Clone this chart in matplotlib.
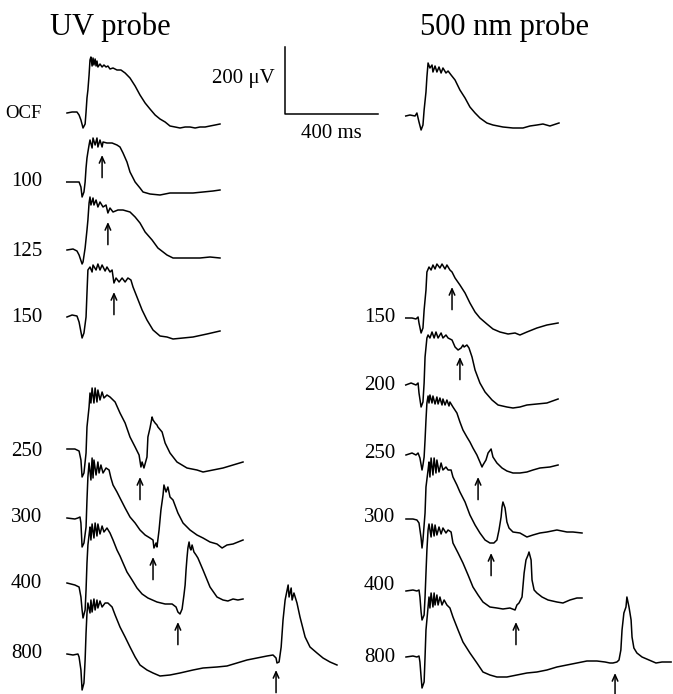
import matplotlib
matplotlib.use("Agg")
import matplotlib.pyplot as plt

plt.rcParams['font.family'] = ['Liberation Serif', 'DejaVu Serif']

# ERG traces: time from probe flash (ms), voltage from baseline (uV)
UV_OCF_T = [-56, -34, -13, -4, 4, 13, 22, 26, 30, 34, 39, 43, 47, 52, 56, 60, 65, 69, 73, 77, 86, 95, 103, 112, 120,
            129, 142, 159, 176, 194, 215, 237, 258, 280, 301, 323, 344, 366, 387, 409, 430, 452, 473, 495, 516, 538,
            559, 581, 602]
UV_OCF_V = [0, 3, 3, -6, -21, -45, -33, 3, 45, 69, 114, 159, 168, 141, 165, 144, 162, 141, 156, 138, 147, 138, 144,
            138, 141, 132, 135, 129, 129, 120, 105, 81, 54, 30, 12, -6, -18, -27, -39, -42, -45, -42, -42, -45, -42,
            -42, -39, -36, -33]

UV_100_T = [-57, -14, -4, 4, 9, 17, 22, 26, 30, 34, 39, 43, 52, 56, 65, 73, 77, 86, 95, 99, 116, 138, 159, 172, 185,
            202, 215, 237, 258, 271, 301, 344, 387, 430, 486, 529, 572, 602]
UV_100_V = [0, 0, 0, -15, -45, -30, 0, 42, 72, 90, 111, 126, 102, 132, 111, 132, 105, 126, 105, 120, 117, 117, 111,
            105, 87, 60, 30, 0, -18, -30, -36, -39, -33, -33, -33, -30, -27, -24]

UV_125_T = [-56, -30, -13, -4, 9, 13, 22, 30, 34, 39, 43, 47, 56, 60, 69, 77, 86, 99, 112, 120, 129, 142, 163, 185,
            215, 237, 258, 280, 310, 335, 374, 400, 460, 516, 559, 602]
UV_125_V = [0, 3, -3, -15, -42, -36, 6, 60, 90, 141, 159, 135, 156, 135, 150, 129, 144, 129, 135, 111, 126, 114, 120,
            120, 114, 99, 81, 54, 30, 6, -15, -24, -24, -24, -21, -24]

UV_150_T = [-56, -34, -13, -4, 9, 17, 26, 30, 34, 43, 52, 56, 69, 77, 86, 95, 108, 116, 129, 138, 146, 155, 168, 181,
            194, 206, 219, 228, 245, 267, 288, 314, 344, 374, 400, 443, 486, 546, 602]
UV_150_V = [-3, 3, 0, -18, -66, -51, -3, 69, 138, 147, 132, 153, 138, 156, 138, 153, 135, 147, 132, 138, 99, 114, 102,
            114, 102, 114, 108, 87, 57, 18, -12, -42, -60, -63, -69, -66, -63, -54, -45]

UV_250_T = [-56, -22, -4, 4, 9, 17, 26, 30, 39, 43, 47, 52, 60, 65, 73, 77, 86, 95, 103, 116, 129, 151, 172, 194, 215,
            237, 254, 262, 267, 275, 288, 292, 301, 310, 314, 323, 331, 335, 353, 366, 387, 417, 460, 503, 529, 572,
            615, 658, 701]
UV_250_V = [0, 0, -6, -33, -84, -72, -12, 66, 126, 168, 138, 183, 138, 183, 141, 177, 147, 171, 153, 162, 156, 141,
            108, 78, 36, 6, -18, -54, -39, -57, -24, 36, 63, 96, 87, 78, 72, 66, 51, 18, -12, -39, -57, -63, -69, -63,
            -57, -48, -39]

UV_300_T = [-56, -22, -9, 0, 4, 9, 17, 26, 30, 34, 39, 47, 52, 56, 60, 69, 77, 82, 90, 99, 112, 125, 133, 142, 159,
            172, 194, 215, 237, 258, 280, 301, 314, 318, 327, 331, 340, 348, 357, 361, 370, 378, 387, 400, 421, 443,
            473, 503, 529, 559, 589, 611, 632, 658, 701]
UV_300_V = [0, -3, 0, 3, -15, -87, -75, -27, 54, 123, 165, 114, 180, 120, 174, 129, 168, 135, 159, 135, 150, 144, 120,
            99, 78, 60, 30, 3, -15, -36, -51, -60, -66, -90, -75, -87, -36, 24, 69, 99, 78, 93, 63, 54, 15, -15, -36,
            -51, -60, -72, -78, -90, -81, -78, -66]

UV_400_T = [-56, -22, -4, 4, 9, 13, 22, 26, 30, 34, 39, 43, 47, 52, 60, 65, 73, 77, 86, 95, 103, 116, 129, 142, 159,
            172, 185, 202, 224, 245, 267, 292, 331, 366, 396, 413, 421, 430, 439, 447, 452, 456, 460, 464, 469, 473,
            477, 482, 490, 499, 507, 529, 559, 589, 615, 636, 658, 679, 701]
UV_400_V = [0, -6, -12, -42, -81, -105, -81, -21, 60, 114, 144, 168, 129, 177, 135, 180, 141, 177, 147, 171, 153, 165,
            150, 129, 99, 81, 60, 33, 9, -15, -33, -45, -57, -63, -63, -72, -87, -93, -78, -36, -6, 39, 75, 105, 123,
            105, 99, 114, 93, 84, 75, 39, -12, -42, -51, -54, -48, -51, -48]

UV_800_T = [-56, -30, -9, -4, 4, 9, 17, 22, 26, 30, 34, 43, 47, 52, 60, 65, 73, 77, 86, 95, 108, 120, 138, 151, 172,
            194, 215, 237, 258, 288, 314, 344, 387, 430, 486, 529, 589, 632, 675, 718, 761, 804, 830, 843, 847, 856,
            865, 873, 882, 895, 899, 908, 912, 920, 933, 946, 968, 989, 1019, 1045, 1075, 1105]
UV_800_V = [3, 0, 3, -6, -45, -105, -84, -15, 66, 126, 156, 126, 165, 129, 168, 135, 165, 141, 162, 144, 156, 156,
            144, 120, 84, 54, 24, -6, -30, -45, -54, -63, -60, -54, -45, -39, -36, -33, -24, -15, -9, -3, 0, -9, -24,
            -21, 24, 105, 165, 210, 174, 201, 165, 186, 156, 114, 54, 24, 6, -9, -21, -30]

G500_OCF_T = [-57, -39, -17, -9, 0, 9, 17, 22, 30, 34, 39, 47, 56, 60, 69, 77, 86, 95, 103, 116, 125, 138, 155, 176,
              198, 219, 241, 262, 292, 318, 361, 404, 447, 477, 507, 533, 563, 602]
G500_OCF_V = [-3, 0, -3, 6, -21, -45, -30, 15, 69, 114, 156, 141, 150, 129, 147, 129, 144, 126, 141, 126, 132, 120,
              105, 75, 51, 24, 6, -9, -24, -30, -36, -39, -39, -33, -30, -27, -33, -24]

G500_150_T = [-57, -30, -13, -4, 0, 9, 17, 22, 30, 34, 43, 52, 60, 69, 77, 90, 99, 112, 120, 133, 142, 155, 176, 198,
              219, 241, 262, 292, 318, 348, 383, 413, 434, 464, 507, 550, 598]
G500_150_V = [0, 0, -3, 3, -15, -45, -30, 24, 84, 138, 153, 144, 159, 147, 162, 150, 162, 147, 159, 144, 138, 120, 99,
              75, 45, 18, 0, -18, -33, -42, -48, -45, -51, -42, -30, -21, -15]

G500_200_T = [-57, -34, -13, -4, 0, 9, 17, 22, 26, 34, 39, 47, 56, 65, 73, 82, 95, 103, 116, 125, 142, 155, 168, 181,
              189, 194, 206, 215, 228, 241, 262, 284, 314, 340, 378, 404, 434, 464, 507, 550, 598]
G500_200_V = [-3, 3, -3, 3, -27, -69, -54, 3, 81, 138, 147, 138, 156, 138, 156, 138, 153, 138, 147, 138, 132, 111, 102,
              108, 117, 111, 117, 108, 81, 42, 3, -24, -48, -63, -69, -72, -69, -63, -60, -57, -45]

G500_250_T = [-56, -30, -13, -4, 4, 13, 17, 22, 26, 30, 34, 39, 43, 47, 56, 60, 69, 77, 82, 90, 99, 103, 112, 120, 129,
              133, 146, 163, 176, 189, 206, 219, 232, 249, 262, 271, 275, 288, 297, 310, 318, 335, 357, 378, 404, 434,
              464, 490, 520, 563, 598]
G500_250_V = [0, 6, 0, 6, -9, -45, -30, -6, 45, 105, 156, 177, 156, 180, 156, 177, 153, 174, 153, 171, 150, 168, 150,
              165, 147, 159, 144, 126, 99, 75, 54, 39, 21, 0, -21, -36, -30, -15, 6, 18, -6, -24, -39, -48, -54, -54,
              -51, -45, -39, -36, -30]

G500_300_T = [-56, -26, -9, 0, 9, 13, 17, 26, 30, 39, 43, 47, 52, 60, 65, 73, 77, 86, 95, 103, 116, 125, 138, 146, 163,
              176, 198, 219, 241, 262, 284, 305, 322, 335, 344, 353, 357, 361, 370, 378, 387, 404, 434, 464, 490, 520,
              550, 593, 636, 662, 701]
G500_300_V = [0, 0, -3, -12, -57, -87, -63, 18, 96, 147, 171, 126, 183, 132, 183, 138, 177, 141, 168, 147, 156, 147,
              147, 126, 102, 81, 51, 12, -18, -42, -63, -72, -72, -63, -33, 6, 36, 51, 33, -9, -27, -39, -42, -54, -48,
              -42, -39, -33, -39, -39, -42]

G500_400_T = [-56, -26, -9, 0, 4, 9, 13, 22, 26, 30, 34, 39, 43, 52, 56, 65, 69, 77, 86, 95, 103, 116, 125, 138, 146,
              168, 189, 211, 232, 254, 275, 305, 335, 361, 391, 413, 421, 430, 443, 452, 460, 469, 473, 482, 486, 495,
              507, 529, 555, 593, 619, 649, 679, 701]
G500_400_V = [0, 3, 0, 3, -18, -63, -87, -72, -18, 54, 123, 183, 201, 162, 201, 165, 198, 168, 192, 171, 189, 174, 183,
              177, 144, 114, 84, 48, 12, -12, -33, -48, -51, -54, -51, -57, -42, -36, -18, 54, 93, 108, 117, 93, 33, 3,
              -6, -18, -27, -33, -36, -27, -21, -21]

G500_800_T = [-56, -26, -9, 0, 4, 9, 13, 22, 26, 30, 39, 43, 47, 52, 60, 65, 69, 77, 82, 90, 99, 108, 120, 133, 146,
              168, 189, 219, 249, 275, 305, 335, 378, 421, 464, 507, 550, 593, 636, 679, 722, 765, 800, 821, 834, 851,
              860, 868, 873, 881, 890, 894, 903, 912, 916, 924, 937, 959, 989, 1019, 1045, 1084]
G500_800_V = [0, 3, 0, 3, -15, -60, -93, -75, 0, 81, 150, 180, 147, 192, 150, 192, 156, 186, 156, 180, 156, 171, 156,
              147, 120, 81, 45, 12, -18, -45, -54, -60, -60, -54, -48, -45, -39, -30, -24, -18, -12, -12, -15, -18, -18,
              -15, -9, 21, 81, 132, 150, 180, 150, 111, 60, 27, 12, 0, -9, -18, -15, -15]

# interval labels and arrow marks (time of test flash in ms, arrow tip in uV)
UV_LABELS = ['OCF', '100', '125', '150', '250', '300', '400', '800']
G500_LABELS = ['', '150', '200', '250', '300', '400', '800']
UV_ARROW_T = [None, 95, 120, 146, 258, 314, 421, 843]
UV_ARROW_TIP = [None, 81, 84, 72, -84, -117, -117, -45]
G500_ARROW_T = [None, 142, 176, 254, 310, 417, 843]
G500_ARROW_TIP = [None, 93, 81, -66, -102, -93, -48]

# layout (pixel grid of the original figure)
MS_PER_PX = 4.3
UV_PER_PX = 3.0
W, H = 673, 694
UV_FLASH_PX = 80
G500_FLASH_PX = 419
UV_BASE_PX = [113, 182, 250, 316, 449, 518, 583, 655]
G500_BASE_PX = [115, 318, 384, 455, 519, 591, 657]
UV_LABEL_PX = [113, 181, 251, 317, 451, 518, 584, 654]
G500_LABEL_PX = [115, 317, 386, 453, 518, 585, 658]

uv_traces = [(UV_OCF_T, UV_OCF_V), (UV_100_T, UV_100_V), (UV_125_T, UV_125_V), (UV_150_T, UV_150_V),
             (UV_250_T, UV_250_V), (UV_300_T, UV_300_V), (UV_400_T, UV_400_V), (UV_800_T, UV_800_V)]
g500_traces = [(G500_OCF_T, G500_OCF_V), (G500_150_T, G500_150_V), (G500_200_T, G500_200_V),
               (G500_250_T, G500_250_V), (G500_300_T, G500_300_V), (G500_400_T, G500_400_V),
               (G500_800_T, G500_800_V)]

fig = plt.figure(figsize=(W / 100, H / 100), dpi=100)
ax = fig.add_axes([0, 0, 1, 1])
ax.set_xlim(0, W * MS_PER_PX)
ax.set_ylim(-H * UV_PER_PX, 0)
ax.axis('off')


def px_x(p):
    return p * MS_PER_PX


def px_y(p):
    return -p * UV_PER_PX


def draw_panel(traces, labels, arrow_t, arrow_tip, flash_px, base_px, label_px, label_right_px):
    x0 = px_x(flash_px)
    for (t, v), lab, at, tip, bp, lp in zip(traces, labels, arrow_t, arrow_tip, base_px, label_px):
        y0 = px_y(bp)
        ax.plot([x0 + ti for ti in t], [y0 + vi for vi in v], color='black', lw=1.1)
        if lab:
            fs = 13.5 if lab == 'OCF' else 15
            ax.text(px_x(label_right_px), px_y(lp), lab, ha='right', va='center', fontsize=fs)
        if at is not None:
            ax.annotate('', xy=(x0 + at, y0 + tip), xytext=(x0 + at, y0 + tip - 68),
                        arrowprops=dict(arrowstyle='->,head_length=0.45,head_width=0.2', lw=1.1,
                                        color='black', shrinkA=0, shrinkB=0))


draw_panel(uv_traces, UV_LABELS, UV_ARROW_T, UV_ARROW_TIP, UV_FLASH_PX, UV_BASE_PX, UV_LABEL_PX, 42)
draw_panel(g500_traces, G500_LABELS, G500_ARROW_T, G500_ARROW_TIP, G500_FLASH_PX, G500_BASE_PX, G500_LABEL_PX, 395)

# scale bar: 400 ms x 200 uV
cx, cy = px_x(285), px_y(114)
ax.plot([cx, cx, cx + 400], [cy + 200, cy, cy], color='black', lw=1.1)
ax.text(cx - px_x(10), px_y(79), '200 \u03bcV', ha='right', va='center', fontsize=15)
ax.text(cx + 200, px_y(133), '400 ms', ha='center', va='center', fontsize=15)

ax.text(px_x(110), px_y(27), 'UV probe', ha='center', va='center', fontsize=22)
ax.text(px_x(505), px_y(27), '500 nm probe', ha='center', va='center', fontsize=22)

plt.savefig('out.png', dpi=100)
